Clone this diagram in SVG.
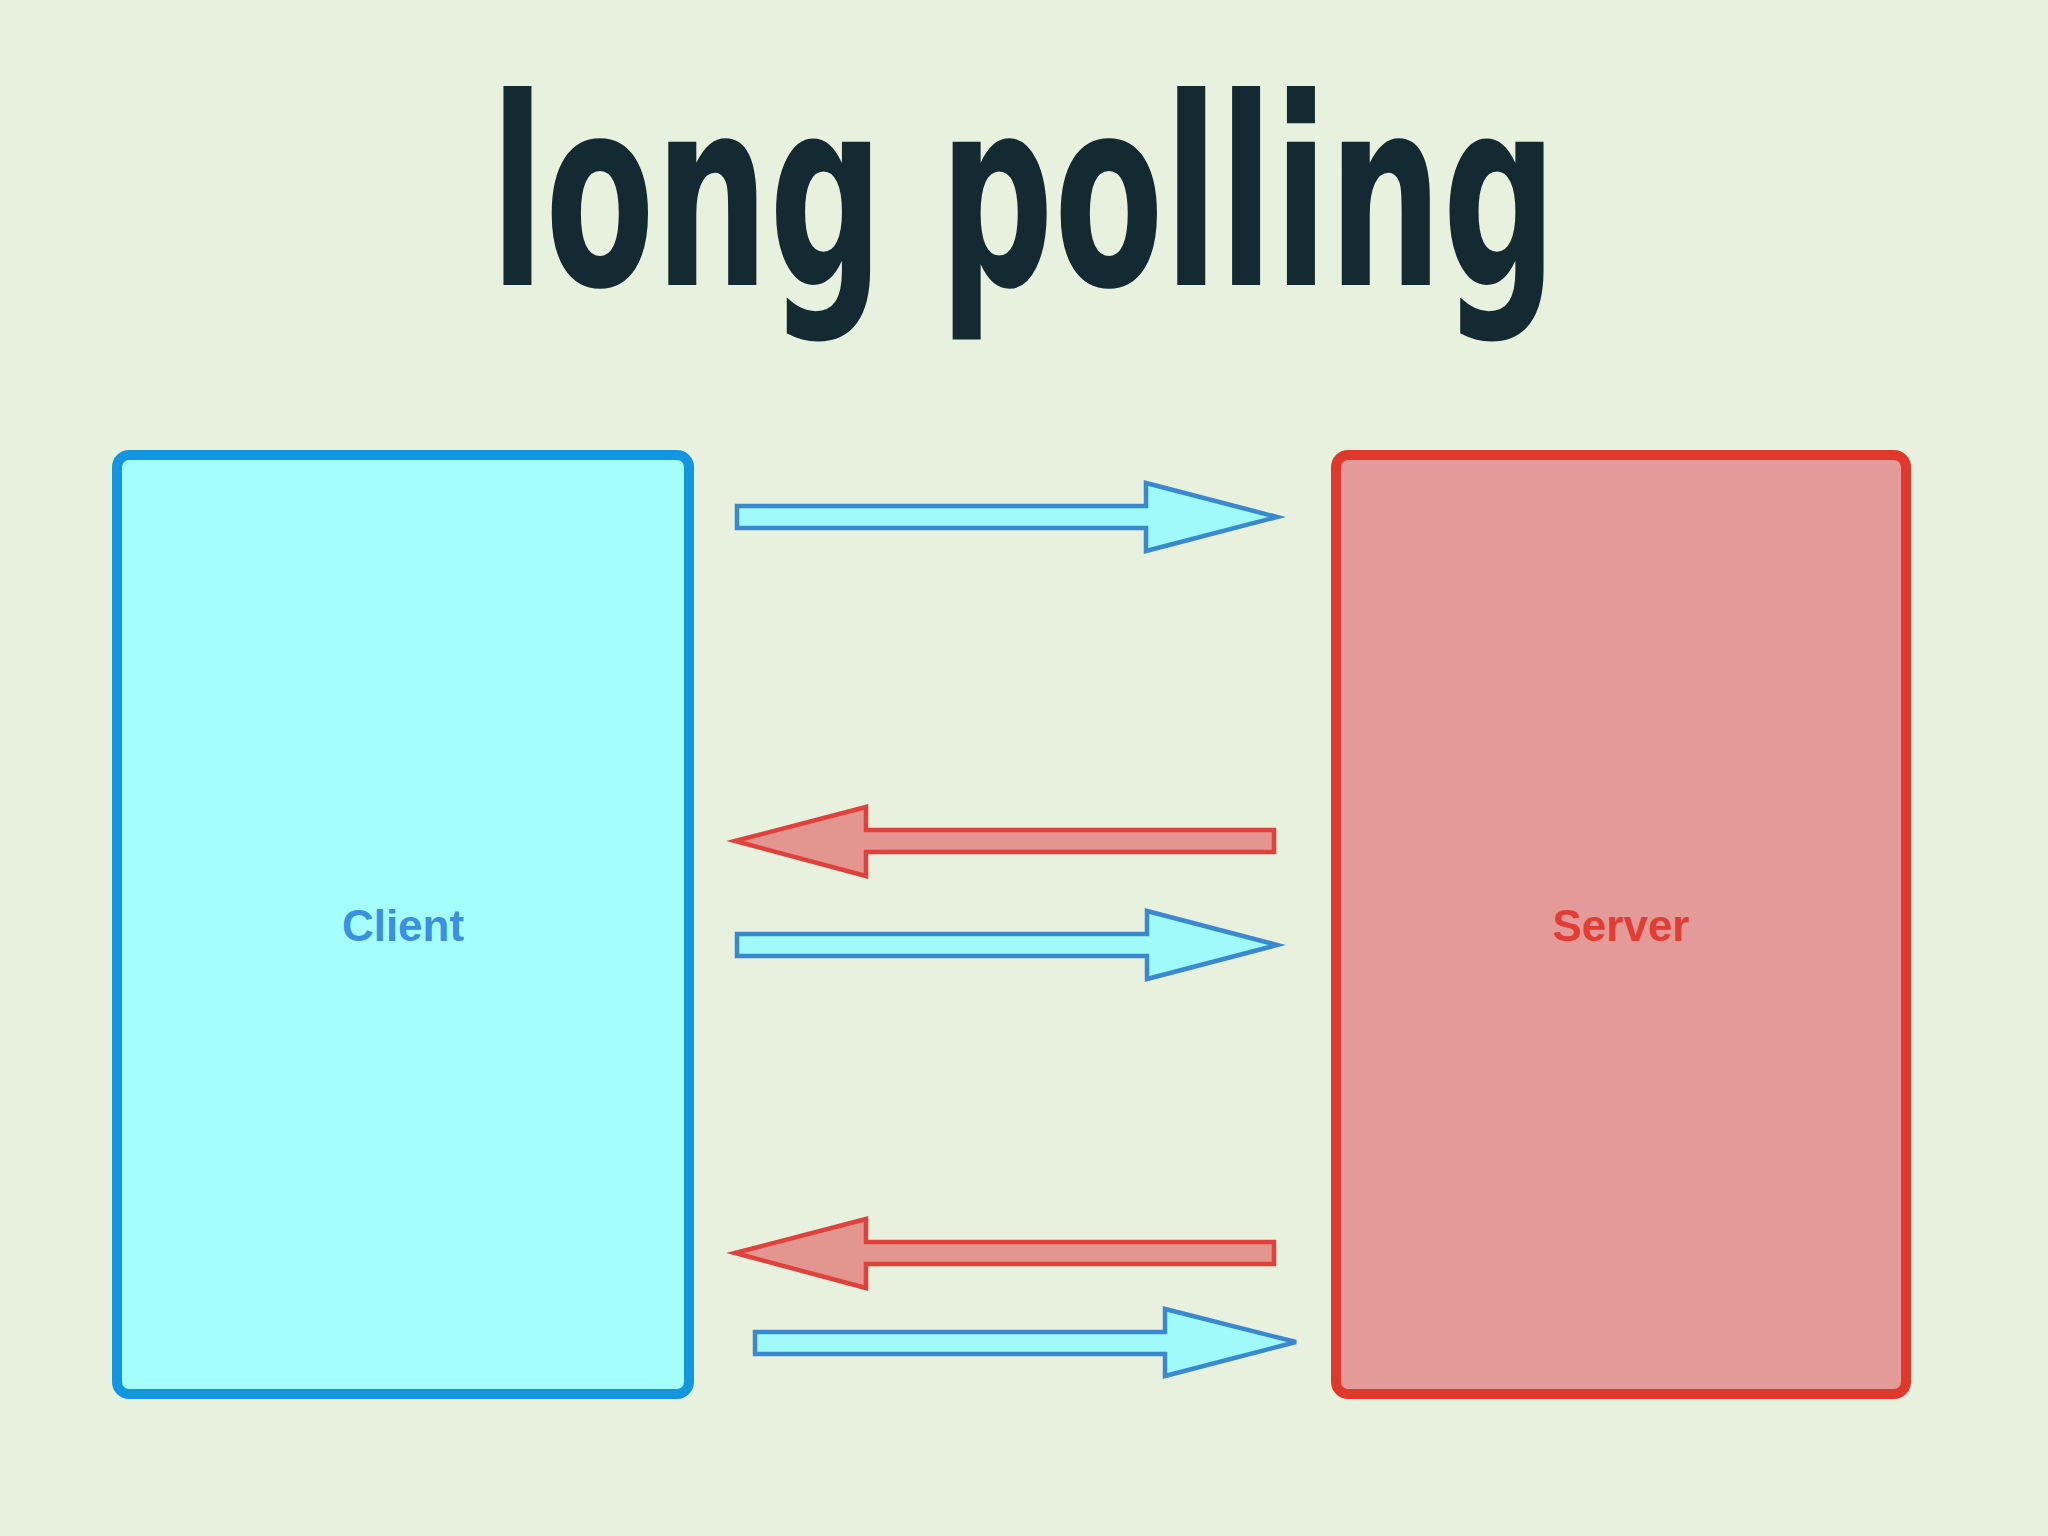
<svg xmlns="http://www.w3.org/2000/svg" width="2048" height="1536" viewBox="0 0 2048 1536">
<style>
.title{font-family:"DejaVu Sans Condensed","DejaVu Sans",sans-serif;font-weight:bold;font-size:262px;fill:#132a33}
.lbl{font-family:"Liberation Sans",Arial,sans-serif;font-weight:bold;font-size:44px;text-anchor:middle}
.box{stroke-width:10}
.req{fill:#a0fafa;stroke:#3a88d0;stroke-width:4.5;stroke-linejoin:miter}
.res{fill:#e3958f;stroke:#e0413a;stroke-width:4.5;stroke-linejoin:miter}
</style>
<rect x="0" y="0" width="2048" height="1536" fill="#e8f1de"/>
<text class="title" transform="translate(490,285) scale(0.68,1)" x="0" y="0" textLength="1569" lengthAdjust="spacingAndGlyphs">long polling</text>
<g id="client">
<rect class="box" x="117" y="455" width="572" height="939" rx="12" fill="#a4fefa" stroke="#1296e0"/>
<text class="lbl" x="403" y="941" fill="#3a8fe0">Client</text>
</g>
<g id="server">
<rect class="box" x="1336" y="455" width="570" height="939" rx="12" fill="#e39a98" stroke="#e0392b"/>
<text class="lbl" x="1621" y="941" fill="#e23d33">Server</text>
</g>
<g id="connectors">
<polygon class="req" points="737,506 1146,506 1146,483 1277,517 1146,551 1146,528 737,528"/>
<polygon class="res" points="735,841 866,807 866,830 1274,830 1274,852 866,852 866,876"/>
<polygon class="req" points="737,934 1147,934 1147,911 1277,945 1147,979 1147,956 737,956"/>
<polygon class="res" points="735,1253 866,1219 866,1242 1274,1242 1274,1264 866,1264 866,1288"/>
<polygon class="req" points="755,1332 1165,1332 1165,1309 1296,1342 1165,1376 1165,1354 755,1354"/>
</g>
</svg>
